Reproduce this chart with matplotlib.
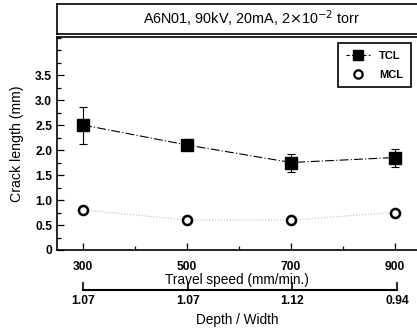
import numpy as np
import matplotlib
matplotlib.use("Agg")
from matplotlib import pyplot as plt
from matplotlib.ticker import MultipleLocator
from matplotlib.lines import Line2D

plt.rcParams['font.family'] = ['Liberation Sans', 'DejaVu Sans']

# Daten
speed = [300, 500, 700, 900]
tcl = [2.5, 2.1, 1.75, 1.85]
tcl_err_low = [0.38, 0.04, 0.18, 0.18]
tcl_err_high = [0.37, 0.04, 0.17, 0.18]
mcl = [0.8, 0.6, 0.6, 0.75]
depth_width = ["1.07", "1.07", "1.12", "0.94"]
title_text = "A6N01, 90kV, 20mA, 2$\\times$10$^{-2}$ torr"

W, H = 417, 329
fig = plt.figure(figsize=(W / 100, H / 100), dpi=100)

def box(x0, y0, x1, y1):
    # Pixelkoordinaten (oben links) -> Figure-Anteile
    return [x0 / W, 1 - y1 / H, (x1 - x0) / W, (y1 - y0) / H]

# Titelkasten
tax = fig.add_axes(box(57, 4, 420, 34))
tax.set_xticks([])
tax.set_yticks([])
tax.spines['right'].set_visible(False)
for s in tax.spines.values():
    s.set_linewidth(1.2)
tax.text(0.535, 0.5, title_text, ha='center', va='center', fontsize=10.4,
         transform=tax.transAxes)

# Hauptdiagramm
ax = fig.add_axes(box(57, 37, 417, 250))
ax.errorbar(speed, tcl, yerr=[tcl_err_low, tcl_err_high], fmt='s', color='black',
            ms=8, capsize=3, elinewidth=0.8, capthick=0.8, zorder=3)
ax.plot(speed, tcl, color='black', lw=0.8, dashes=[8, 2, 1, 2], zorder=2)
ax.plot(speed, mcl, color='#bbbbbb', lw=0.8, ls=':', zorder=1)
ax.plot(speed, mcl, 'o', mfc='white', mec='black', mew=1.8, ms=6.5, zorder=3)

ax.set_xlim(250, 942)
ax.set_ylim(0, 4.26)
ax.spines['right'].set_visible(False)
for s in ax.spines.values():
    s.set_linewidth(1.2)
ax.set_xticks(speed)
ax.xaxis.set_minor_locator(MultipleLocator(100))
ax.set_yticks([0, 0.5, 1.0, 1.5, 2.0, 2.5, 3.0, 3.5])
ax.set_yticklabels(["0", "0.5", "1.0", "1.5", "2.0", "2.5", "3.0", "3.5"])
ax.yaxis.set_minor_locator(MultipleLocator(0.25))
ax.tick_params(which='both', direction='in', labelsize=8.7, width=0.9)
ax.tick_params(which='major', length=5)
ax.tick_params(which='minor', length=3)
ax.tick_params(axis='x', which='major', pad=8)
for lab in ax.get_xticklabels() + ax.get_yticklabels():
    lab.set_fontweight('bold')
ax.set_xlabel("Travel speed (mm/min.)", fontsize=9.8, labelpad=0)
ax.set_ylabel("Crack length (mm)", fontsize=10.2, labelpad=8)

# Legende
h_tcl = Line2D([], [], color='black', marker='s', ms=7, lw=0.8, dashes=[3, 2])
h_mcl = Line2D([], [], color='black', marker='o', mfc='white', mew=1.6, ms=6, lw=0)
leg = ax.legend([h_tcl, h_mcl], ["TCL", "MCL"], loc='upper right',
                bbox_to_anchor=(0.983, 0.972), borderaxespad=0, fancybox=False,
                edgecolor='black', framealpha=1, handlelength=2.2, fontsize=8,
                borderpad=0.7, labelspacing=0.8)
leg.get_frame().set_linewidth(1.2)
for t in leg.get_texts():
    t.set_fontweight('bold')

# zweite Achse: Depth / Width
ax2 = fig.add_axes(box(57, 289, 417, 289.5))
ax2.set_xlim(250, 938)
ax2.set_ylim(0, 1)
for side in ['top', 'left', 'right']:
    ax2.spines[side].set_visible(False)
ax2.spines['bottom'].set_bounds(300, 900)
ax2.spines['bottom'].set_linewidth(1.5)
ax2.set_yticks([])
ax2.set_xticks(speed)
ax2.set_xticklabels(depth_width)
ax2.tick_params(axis='x', direction='in', length=6, width=1.2, labelsize=8.7, pad=4)
for lab in ax2.get_xticklabels():
    lab.set_fontweight('bold')
ax2.patch.set_visible(False)
ax2.set_xlabel("Depth / Width", fontsize=9.8, labelpad=4)

fig.savefig("out.png", dpi=100)
